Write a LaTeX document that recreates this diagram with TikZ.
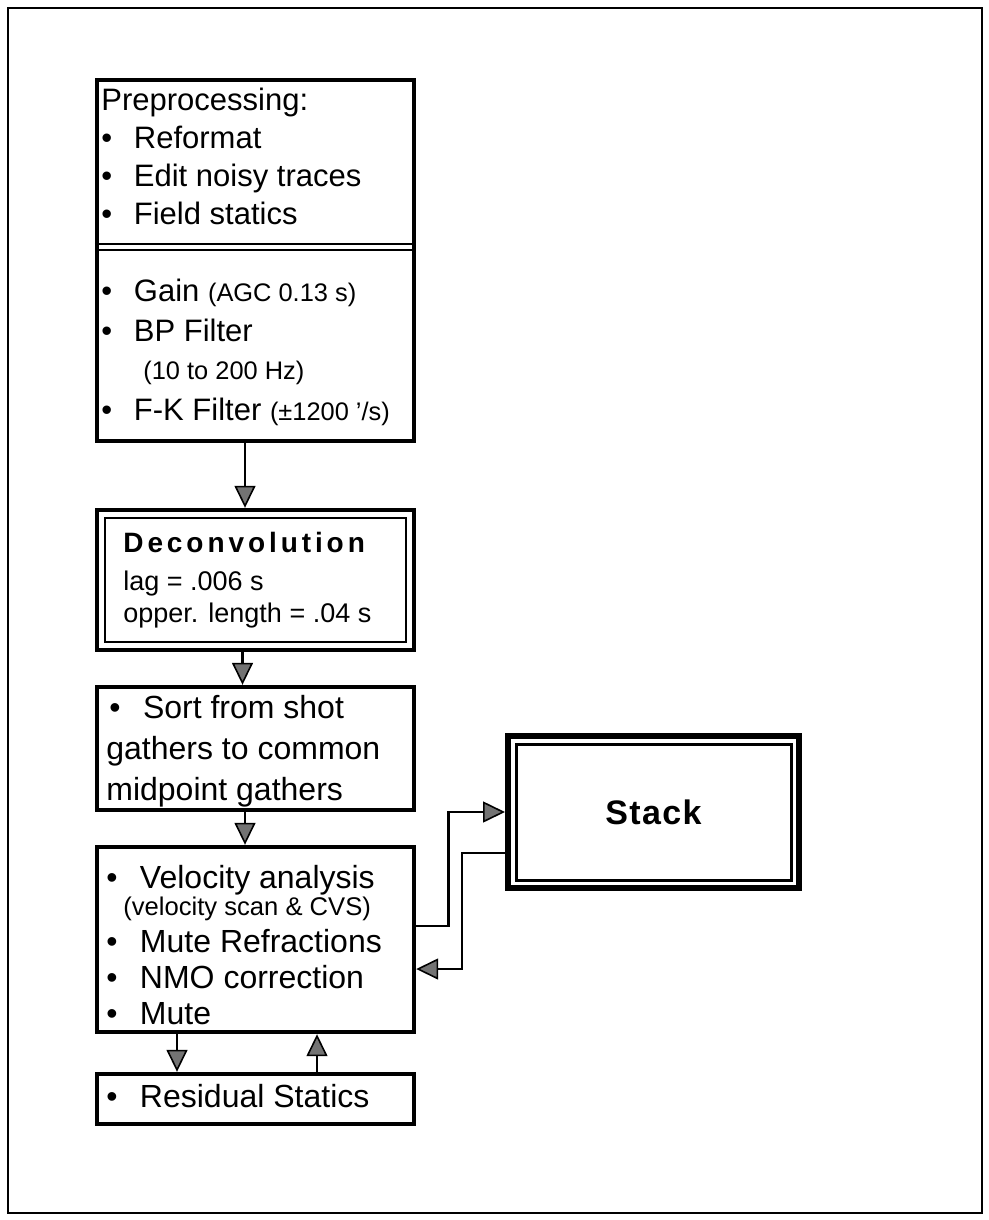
\documentclass[tikz,border=0pt]{standalone}
\usepackage{fontspec}
\setmainfont{Liberation Sans}
\usetikzlibrary{arrows.meta,positioning}
\newcommand{\itembul}{\textbullet\hspace{0.7em}}
\newcommand{\notefont}[1]{{\fontsize{12.7pt}{14pt}\selectfont #1}}

\begin{document}
\begin{tikzpicture}[x=0.5pt,y=-0.5pt,
  box/.style={draw, line width=2.2pt, minimum width=158.5pt, inner sep=0pt},
  txt/.style={anchor=north west, align=left, inner sep=0pt},
  flow/.style={line width=1.3pt, -{Triangle[length=11pt,width=10.5pt,line width=0.8pt,fill=black!55]}}]
\useasboundingbox (0,0) rectangle (989,1220);
% page frame
\draw[line width=1.2pt] (8,8) rectangle (982,1213);
% boxes of the left column
\node[box, minimum height=180.5pt] (prep) at (255.5,260.5) {};
\node[box, minimum height=70pt] (decon) at (255.5,580) {};
\node[box, minimum height=61.5pt] (sort) at (255.5,748.5) {};
\node[box, minimum height=92.5pt] (vel) at (255.5,939.5) {};
\node[box, minimum height=25pt] (resid) at (255.5,1099) {};
\node[box, line width=3pt, minimum width=145.5pt, minimum height=76pt,
      font=\fontsize{17pt}{20pt}\selectfont\bfseries] (stack) at (653.5,812)
      {\addfontfeature{LetterSpace=4}Stack};
% double lines
\draw[line width=1pt] (prep.west |- 0,243.5) -- (prep.east |- 0,243.5);
\draw[line width=1pt] (prep.west |- 0,249.5) -- (prep.east |- 0,249.5);
\draw[line width=1.2pt] ([shift={(5pt,-5pt)}]decon.north west) rectangle ([shift={(-5pt,5pt)}]decon.south east);
\draw[line width=1.5pt] ([shift={(5.5pt,-5.5pt)}]stack.north west) rectangle ([shift={(-5.5pt,5.5pt)}]stack.south east);
% texts
\node[txt, font=\fontsize{15.5pt}{19pt}\selectfont] (preptop) at (101,88)
  {Preprocessing:\\ \itembul Reformat\\ \itembul Edit noisy traces\\ \itembul Field statics};
\node[txt, font=\fontsize{15.5pt}{20pt}\selectfont] (prepbot) at (101,278.5)
  {\itembul Gain \notefont{(AGC 0.13 s)}\\ \itembul BP Filter\\[-1pt]
   \hspace*{21pt}\notefont{(10 to 200 Hz)}\\[0.5pt]
   \itembul F-K Filter \notefont{(±1200 '/s)}};
\node[txt, font=\fontsize{13.5pt}{16pt}\selectfont] (decontxt) at (123,532)
  {{\fontsize{14pt}{16pt}\selectfont\bfseries\addfontfeature{LetterSpace=14}Deconvolution}\\[3pt]
   lag = .006 s\\ opper. length = .04 s};
\node[txt, font=\fontsize{16pt}{20.5pt}\selectfont] (sorttxt) at (106,694.5)
  {\hspace*{1.5pt}\itembul Sort from shot\\ gathers to common\\ midpoint gathers};
\node[txt, font=\fontsize{16pt}{18pt}\selectfont] (veltxt) at (106,864.5)
  {\itembul Velocity analysis\\[-4.5pt]
   \hspace*{8.5pt}{\fontsize{12.8pt}{15pt}\selectfont (velocity scan \& CVS)}\\[0.5pt]
   \itembul Mute Refractions\\ \itembul NMO correction\\ \itembul Mute};
\node[txt, font=\fontsize{16pt}{18pt}\selectfont] (residtxt) at (106,1083.5)
  {\itembul Residual Statics};
% connectors
\draw[flow] ([xshift=-5.25pt]prep.south) -- ([xshift=-5.25pt]decon.north);
\draw[flow] ([xshift=-6.5pt]decon.south) -- ([xshift=-6.5pt]sort.north);
\draw[flow] ([xshift=-5.25pt]sort.south) -- ([xshift=-5.25pt]vel.north);
\draw[flow] ([xshift=-39.25pt]vel.south) -- ([xshift=-39.25pt]resid.north);
\draw[flow] ([xshift=30.75pt]resid.north) -- ([xshift=30.75pt]vel.south);
\draw[flow] ([yshift=6.75pt]vel.east) -- ++(16pt,0) |- (stack.west);
\draw[flow] ([yshift=-20.5pt]stack.west) -- ++(-21.5pt,0) |- ([yshift=-14.75pt]vel.east);
\end{tikzpicture}
\end{document}
